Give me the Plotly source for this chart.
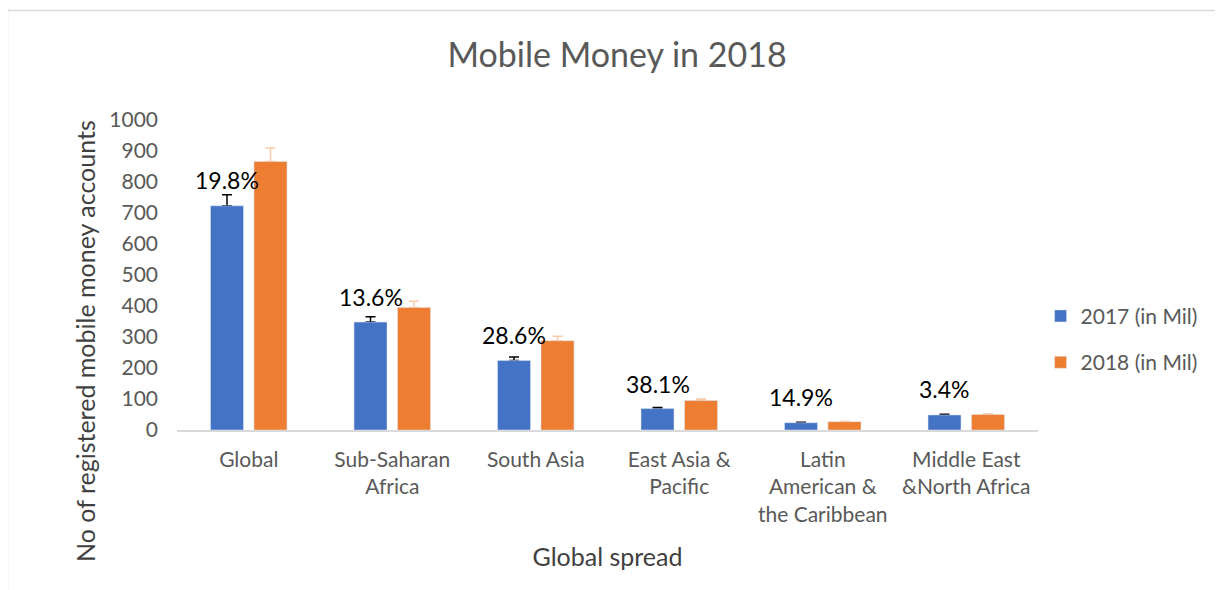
import plotly.graph_objects as go

categories = ["Global", "Sub-Saharan<br>Africa", "South Asia", "East Asia &<br>Pacific",
              "Latin<br>American &<br>the Caribbean", "Middle East<br>&North Africa"]
values_2017 = [723, 348, 224, 69, 23.5, 48.5]
values_2018 = [866, 395.5, 288, 95, 27, 50.1]
growth_labels = ["19.8%", "13.6%", "28.6%", "38.1%", "14.9%", "3.4%"]
label_y = [806, 429, 306, 150, 107, 131]
series_names = ["2017 (in Mil)", "2018 (in Mil)"]
error_percent = 5

BLUE = "#4472C4"
ORANGE = "#ED7D31"
FONT = "Lato"
GREY = "#595959"

fig = go.Figure()

# error bars (drawn underneath, on main axes) - transparent bars
fig.add_trace(go.Bar(x=categories, y=values_2017, marker=dict(color="rgba(0,0,0,0)"),
                     showlegend=False, hoverinfo="skip", xaxis="x", yaxis="y",
                     error_y=dict(type="percent", value=error_percent, symmetric=False,
                                  valueminus=0, color="#000000", thickness=1.5, width=5)))
fig.add_trace(go.Bar(x=categories, y=values_2018, marker=dict(color="rgba(0,0,0,0)"),
                     showlegend=False, hoverinfo="skip", xaxis="x", yaxis="y",
                     error_y=dict(type="percent", value=error_percent, symmetric=False,
                                  valueminus=0, color="#F8CBAD", thickness=1.5, width=5)))

# visible bars on overlay axes
fig.add_trace(go.Bar(x=categories, y=values_2017, name=series_names[0], marker=dict(color=BLUE),
                     xaxis="x2", yaxis="y2", legendgroup="a"))
fig.add_trace(go.Bar(x=categories, y=values_2018, name=series_names[1], marker=dict(color=ORANGE),
                     xaxis="x2", yaxis="y2", legendgroup="b"))

for cat, lab, ly in zip(categories, growth_labels, label_y):
    fig.add_annotation(x=cat, y=ly, xref="x", yref="y", text=lab, showarrow=False,
                       xshift=-21.75, font=dict(family=FONT, size=23, color="#000000"))

# y-axis title (placed lower than plot-centre, as in the original)
fig.add_annotation(x=(85 - 177) / 861, y=(430 - 341) / 310, xref="paper", yref="paper",
                   text="No of registered mobile money accounts", textangle=-90,
                   showarrow=False, xanchor="center", yanchor="middle",
                   font=dict(family=FONT, size=25, color="#404040"))

# outer frame
fig.add_shape(type="rect", xref="paper", yref="paper",
              x0=(7.5 - 177) / 861, x1=(1240 - 177) / 861,
              y0=(430 - 610) / 310, y1=1 + (120 - 10.5) / 310,
              line=dict(color="#D9D9D9", width=1.5), fillcolor="rgba(0,0,0,0)", layer="below")

fig.update_layout(
    width=1223, height=590,
    margin=dict(l=169, r=193, t=112, b=168),
    paper_bgcolor="white", plot_bgcolor="white",
    barmode="group", bargap=0.394, bargroupgap=0.241,
    font=dict(family=FONT, color=GREY),
    title=dict(text="Mobile Money in 2018", x=0.498, xanchor="center", y=0.920, yanchor="middle",
               font=dict(family=FONT, size=34, color=GREY)),
    xaxis=dict(categoryorder="array", categoryarray=categories, showline=True,
               linecolor="#D9D9D9", linewidth=1.5, showgrid=False, ticks="",
               tickfont=dict(family=FONT, size=21, color=GREY), ticklabelstandoff=10,
               title=dict(text="Global spread", font=dict(family=FONT, size=25, color="#404040"),
                          standoff=24)),
    yaxis=dict(range=[0, 1000], dtick=100, showgrid=False, zeroline=False, ticks="",
               tickfont=dict(family=FONT, size=21, color=GREY), ticklabelstandoff=18),
    xaxis2=dict(overlaying="x", visible=False, categoryorder="array", categoryarray=categories),
    yaxis2=dict(overlaying="y", visible=False, range=[0, 1000]),
    legend=dict(x=1.003, xanchor="left", y=0.433, yanchor="top", tracegroupgap=16,
                font=dict(family=FONT, size=21, color=GREY), bgcolor="rgba(0,0,0,0)"),
    showlegend=True,
)

fig.write_html("out.html")
